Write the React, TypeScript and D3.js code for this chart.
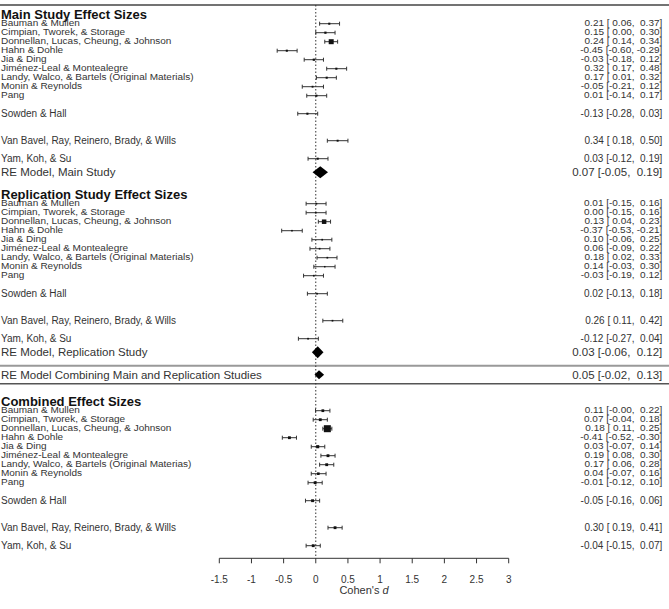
import React from "react";
import * as d3 from "d3";

// Study labels, shared by the three panels
const studies = [
  "Bauman & Mullen",
  "Cimpian, Tworek, & Storage",
  "Donnellan, Lucas, Cheung, & Johnson",
  "Hahn & Dohle",
  "Jia & Ding",
  "Jiménez-Leal & Montealegre",
  "Landy, Walco, & Bartels (Original Materials)",
  "Monin & Reynolds",
  "Pang",
  "Sowden & Hall",
  "Van Bavel, Ray, Reinero, Brady, & Wills",
  "Yam, Koh, & Su",
];
const combinedStudies = studies.map((s, i) =>
  i === 6 ? "Landy, Walco, & Bartels (Original Materias)" : s
);

// Main study: Cohen's d with 95% CI
const mainEst = [0.21, 0.15, 0.24, -0.45, -0.03, 0.32, 0.17, -0.05, 0.01, -0.13, 0.34, 0.03];
const mainLo = [0.06, 0.0, 0.14, -0.6, -0.18, 0.17, 0.01, -0.21, -0.14, -0.28, 0.18, -0.12];
const mainHi = [0.37, 0.3, 0.34, -0.29, 0.12, 0.48, 0.32, 0.12, 0.17, 0.03, 0.5, 0.19];
const mainRE = [0.07, -0.05, 0.19];

// Replication study
const repEst = [0.01, 0.0, 0.13, -0.37, 0.1, 0.06, 0.18, 0.14, -0.03, 0.02, 0.26, -0.12];
const repLo = [-0.15, -0.15, 0.04, -0.53, -0.06, -0.09, 0.02, -0.03, -0.19, -0.13, 0.11, -0.27];
const repHi = [0.16, 0.16, 0.23, -0.21, 0.25, 0.22, 0.33, 0.3, 0.12, 0.18, 0.42, 0.04];
const repRE = [0.03, -0.06, 0.12];

// Pooled over main + replication
const overallRE = [0.05, -0.02, 0.13];

// Combined per-study effects
const combEst = [0.11, 0.07, 0.18, -0.41, 0.03, 0.19, 0.17, 0.04, -0.01, -0.05, 0.3, -0.04];
const combLo = [-0.004, -0.04, 0.11, -0.52, -0.07, 0.08, 0.06, -0.07, -0.12, -0.16, 0.19, -0.15];
const combHi = [0.22, 0.18, 0.25, -0.3, 0.14, 0.3, 0.28, 0.16, 0.1, 0.06, 0.41, 0.07];

const xTicks = [-1.5, -1, -0.5, 0, 0.5, 1, 1.5, 2, 2.5, 3];

const W = 669;
const H = 609;
const FONT = "'Liberation Sans', Arial, Helvetica, sans-serif";

// row offsets inside a panel (gaps before Sowden, Van Bavel, Yam)
const rowOffsets = [0, 1, 2, 3, 4, 5, 6, 7, 8, 10, 13, 15];

const pad = (v: number) => {
  const s = v.toFixed(2);
  return s.length < 5 ? " ".repeat(5 - s.length) + s : s;
};
const annot = (e: number, l: number, u: number) => `${pad(e)} [${pad(l)}, ${pad(u)}]`;

type Panel = {
  title: string;
  start: number;
  names: string[];
  est: number[];
  lo: number[];
  hi: number[];
  maxSize: number;
  re?: { label: string; vals: number[]; row: number; half: number };
};

const panels: Panel[] = [
  {
    title: "Main Study Effect Sizes",
    start: 0,
    names: studies,
    est: mainEst,
    lo: mainLo,
    hi: mainHi,
    maxSize: 5,
    re: { label: "RE Model, Main Study", vals: mainRE, row: 16.5, half: 6 },
  },
  {
    title: "Replication Study Effect Sizes",
    start: 20,
    names: studies,
    est: repEst,
    lo: repLo,
    hi: repHi,
    maxSize: 4.5,
    re: { label: "RE Model, Replication Study", vals: repRE, row: 36.5, half: 6 },
  },
  {
    title: "Combined Effect Sizes",
    start: 43,
    names: combinedStudies,
    est: combEst,
    lo: combLo,
    hi: combHi,
    maxSize: 7,
  },
];

export default function App() {
  const x = d3.scaleLinear().domain([-1.5, 3]).range([219.3, 508.7]);
  const y = d3.scaleLinear().domain([0, 58]).range([23.7, 545.7]);
  const axisY = 558.3;
  const annotX = 662.3;

  const diamond = (vals: number[], row: number, half: number) => {
    const [e, l, u] = vals;
    const cy = y(row);
    return `M${x(l)},${cy}L${x(e)},${cy - half}L${x(u)},${cy}L${x(e)},${cy + half}Z`;
  };

  return (
    <div style={{ position: "absolute", left: 0, top: 0 }}>
      <svg width={W} height={H} style={{ display: "block", fontFamily: FONT }}>
        <rect width={W} height={H} fill="#fff" />

        {/* frame lines */}
        <line x1={0} x2={W} y1={5} y2={5} stroke="#444" strokeWidth={1.5} />
        <line x1={0} x2={W} y1={y(38)} y2={y(38)} stroke="#999" strokeWidth={2} />
        <line x1={0} x2={W} y1={y(40)} y2={y(40)} stroke="#555" strokeWidth={1.5} />

        {/* reference line at d = 0 */}
        <line
          x1={x(0)}
          x2={x(0)}
          y1={5}
          y2={axisY}
          stroke="#333"
          strokeWidth={1}
          strokeDasharray="1.5,2"
        />

        {panels.map((p) => {
          const wts = p.lo.map((l, i) => Math.pow((2 * 1.96) / (p.hi[i] - l), 2));
          const maxW = d3.max(wts) as number;
          return (
            <g key={p.title}>
              <text
                x={1}
                y={y(p.start - 1)}
                dominantBaseline="central"
                fontSize={13}
                fontWeight="bold"
                fill="#111"
              >
                {p.title}
              </text>
              {p.names.map((name, i) => {
                const cy = y(p.start + rowOffsets[i]);
                const packed = rowOffsets[i] < 9;
                const sz = Math.max(1.3, (p.maxSize * wts[i]) / maxW);
                return (
                  <g key={name + i}>
                    <g transform={`translate(0,${cy}) scale(1,${packed ? 0.85 : 1})`}>
                      <text x={1} y={0} dominantBaseline="central" fontSize={10} fill="#333">
                        {name}
                      </text>
                      <text
                        x={annotX}
                        y={0}
                        dominantBaseline="central"
                        textAnchor="end"
                        fontSize={10}
                        fill="#333"
                        style={{ whiteSpace: "pre" }}
                      >
                        {annot(p.est[i], p.lo[i], p.hi[i])}
                      </text>
                    </g>
                    <g stroke="#333" strokeWidth={1}>
                      <line x1={x(p.lo[i])} x2={x(p.hi[i])} y1={cy} y2={cy} />
                      <line x1={x(p.lo[i])} x2={x(p.lo[i])} y1={cy - 2} y2={cy + 2} />
                      <line x1={x(p.hi[i])} x2={x(p.hi[i])} y1={cy - 2} y2={cy + 2} />
                    </g>
                    <rect
                      x={x(p.est[i]) - sz / 2}
                      y={cy - sz / 2}
                      width={sz}
                      height={sz}
                      fill="#111"
                    />
                  </g>
                );
              })}
              {p.re && (
                <g>
                  <text
                    x={1}
                    y={y(p.re.row)}
                    dominantBaseline="central"
                    fontSize={11.5}
                    fill="#333"
                  >
                    {p.re.label}
                  </text>
                  <text
                    x={annotX}
                    y={y(p.re.row)}
                    dominantBaseline="central"
                    textAnchor="end"
                    fontSize={11.5}
                    fill="#333"
                    style={{ whiteSpace: "pre" }}
                  >
                    {annot(p.re.vals[0], p.re.vals[1], p.re.vals[2])}
                  </text>
                  <path d={diamond(p.re.vals, p.re.row, p.re.half)} fill="#000" />
                </g>
              )}
            </g>
          );
        })}

        {/* overall pooled estimate */}
        <text x={1} y={y(39)} dominantBaseline="central" fontSize={11.5} fill="#333">
          RE Model Combining Main and Replication Studies
        </text>
        <text
          x={annotX}
          y={y(39)}
          dominantBaseline="central"
          textAnchor="end"
          fontSize={11.5}
          fill="#333"
          style={{ whiteSpace: "pre" }}
        >
          {annot(overallRE[0], overallRE[1], overallRE[2])}
        </text>
        <path d={diamond(overallRE, 39, 4.5)} fill="#000" />

        {/* x axis */}
        <g stroke="#333" strokeWidth={1}>
          <line x1={x(-1.5)} x2={x(3)} y1={axisY} y2={axisY} />
          {xTicks.map((t) => (
            <line key={t} x1={x(t)} x2={x(t)} y1={axisY} y2={axisY + 5} />
          ))}
        </g>
        {xTicks.map((t) => (
          <text
            key={t}
            x={x(t)}
            y={579.3}
            dominantBaseline="central"
            textAnchor="middle"
            fontSize={10}
            fill="#333"
          >
            {String(t)}
          </text>
        ))}
        <text x={x(0.75)} y={590} dominantBaseline="central" textAnchor="middle" fontSize={11} fill="#333">
          Cohen's <tspan fontStyle="italic">d</tspan>
        </text>
      </svg>
    </div>
  );
}
